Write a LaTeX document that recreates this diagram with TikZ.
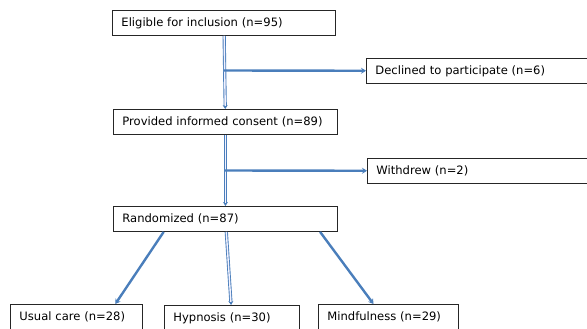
\documentclass[tikz,border=0pt]{standalone}
\usepackage{fontspec}
\setmainfont{DejaVu Sans}
\usetikzlibrary{arrows.meta}

\definecolor{flowblue}{HTML}{4A7EBB}
\tikzset{
	box/.style={draw=black!85, line width=0.9pt, fill=white, anchor=north west,
		inner xsep=9bp, inner ysep=0pt, minimum height=25bp, align=left,
		font=\fontsize{11.6}{13}\selectfont},
	hollow/.style={draw=flowblue, line width=0.9pt, double=blue!5!white, double distance=1.4pt,
		-{Stealth[length=4pt,width=5pt]}},
	thick arrow/.style={draw=flowblue, line width=2.4pt, -{Stealth[length=5pt,width=6pt]}}
}

\begin{document}
\begin{tikzpicture}[x=1bp,y=-1bp]
		\clip (0,0) rectangle (587,328);
		\node[box, text width=205bp] (elig) at (112,10) {Eligible for inclusion (n=95)};
		\node[box, text width=222bp] (decl) at (366,58) {Declined to participate (n=6)};
		\node[box, text width=206bp] (consent) at (113,109) {Provided informed consent (n=89)};
		\node[box, text width=222bp] (withdr) at (367,158) {Withdrew (n=2)};
		\node[box, text width=206bp] (rand) at (113,206) {Randomized (n=87)};
		\node[box, text width=114bp] (usual) at (10,304) {Usual care (n=28)};
		\node[box, text width=117bp] (hypno) at (164,305) {Hypnosis (n=30)};
		\node[box, text width=122bp] (mindf) at (318,304) {Mindfulness (n=29)};
		%
		\coordinate (j1) at (223.5,70.5);
		\coordinate (j2) at (225,170.5);
		%
		\path
		(elig) edge[hollow] (consent)
		(consent) edge[hollow] (rand)
		(rand) edge[hollow] (hypno)
		(j1) edge[thick arrow] (decl)
		(j2) edge[thick arrow] (withdr)
		([xshift=-62]rand.south) edge[thick arrow] ([xshift=39]usual.north)
		([xshift=95]rand.south) edge[thick arrow] ([xshift=-15]mindf.north);
	\end{tikzpicture}
\end{document}
